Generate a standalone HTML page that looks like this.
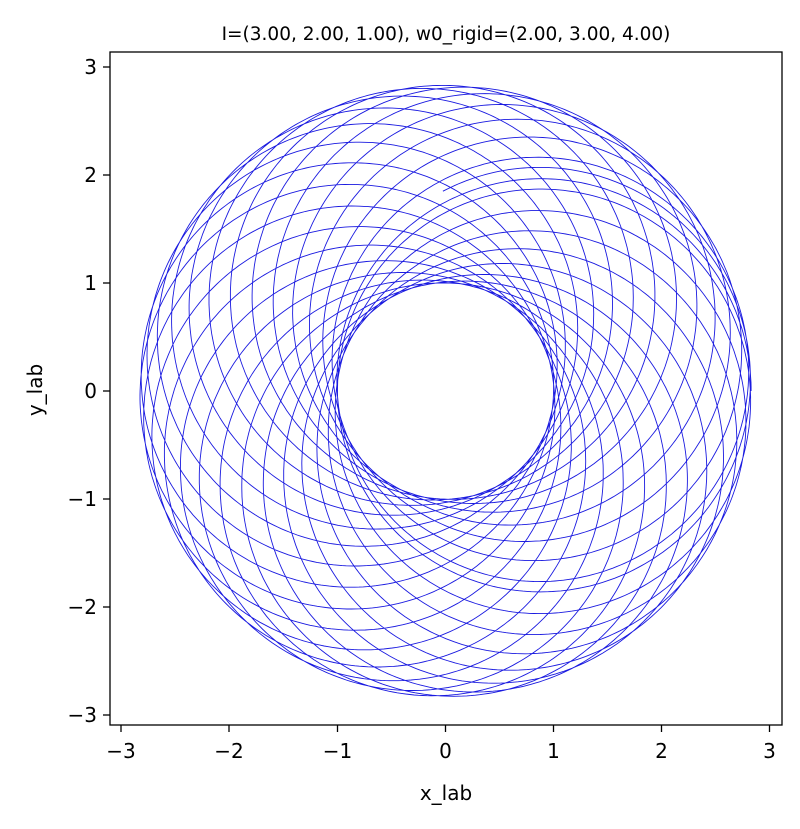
<!DOCTYPE html>
<html><head><meta charset="utf-8"><style>
body{margin:0;background:#fff}
text{font-family:"DejaVu Sans","Liberation Sans",sans-serif;fill:#000}
</style></head><body>
<svg width="800" height="824" xmlns="http://www.w3.org/2000/svg">
<rect width="800" height="824" fill="#fff"/>
<path id="c" fill="none" stroke="#1a1ae0" stroke-width="0.9"/>
<rect x="110" y="52" width="672" height="673" fill="none" stroke="#000" stroke-width="1.3"/>
<g stroke="#000" stroke-width="1.3">
<line x1="121" y1="725" x2="121" y2="732"/><line x1="229" y1="725" x2="229" y2="732"/><line x1="337.5" y1="725" x2="337.5" y2="732"/><line x1="445.5" y1="725" x2="445.5" y2="732"/><line x1="553.5" y1="725" x2="553.5" y2="732"/><line x1="661.5" y1="725" x2="661.5" y2="732"/><line x1="769.5" y1="725" x2="769.5" y2="732"/>
<line x1="103" y1="67" x2="110" y2="67"/><line x1="103" y1="175" x2="110" y2="175"/><line x1="103" y1="283" x2="110" y2="283"/><line x1="103" y1="391" x2="110" y2="391"/><line x1="103" y1="499" x2="110" y2="499"/><line x1="103" y1="607" x2="110" y2="607"/><line x1="103" y1="715" x2="110" y2="715"/>
</g>
<g font-size="20" text-anchor="middle">
<text x="121" y="758">−3</text><text x="229" y="758">−2</text><text x="337.5" y="758">−1</text><text x="445.5" y="758">0</text><text x="553.5" y="758">1</text><text x="661.5" y="758">2</text><text x="769.5" y="758">3</text>
</g>
<g font-size="20" text-anchor="end">
<text x="97" y="74">3</text><text x="97" y="182">2</text><text x="97" y="290">1</text><text x="97" y="398">0</text><text x="97" y="506">−1</text><text x="97" y="614">−2</text><text x="97" y="722">−3</text>
</g>
<text x="446" y="800" font-size="20" text-anchor="middle">x_lab</text>
<text transform="translate(42,390) rotate(-90)" font-size="20" text-anchor="middle">y_lab</text>
<text x="446" y="40" font-size="18.5" text-anchor="middle">I=(3.00, 2.00, 1.00), w0_rigid=(2.00, 3.00, 4.00)</text>
</svg>
<script>
var cx=445.5,cy=391,s=108,d=0.915,r=1.915,N=28.3,p=1.03,pts=[];
var T=N*2*Math.PI,steps=9000;
for(var i=0;i<=steps;i++){var t=T*i/steps;var a=p*2*Math.PI*i/steps;
var x=d*Math.cos(a)+r*Math.cos(t+a);var y=d*Math.sin(a)+r*Math.sin(t+a);
pts.push((i?'L':'M')+(cx+s*x).toFixed(1)+' '+(cy-s*y).toFixed(1));}
document.getElementById('c').setAttribute('d',pts.join(''));
</script>
</body></html>
